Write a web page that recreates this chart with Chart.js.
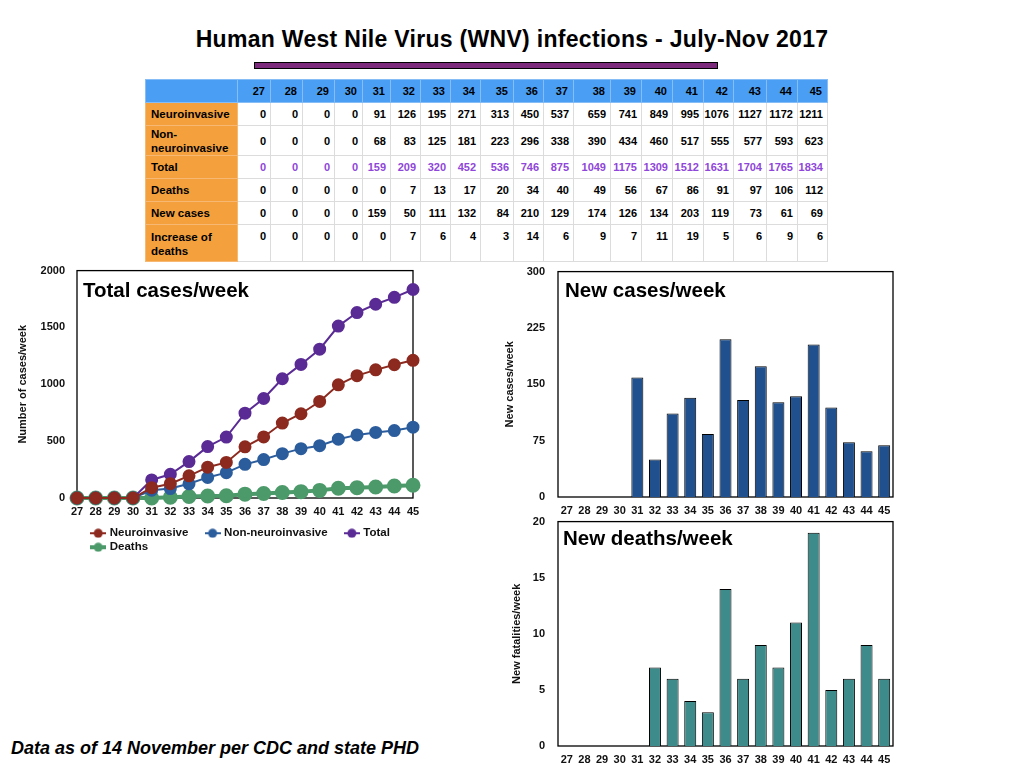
<!DOCTYPE html>
<html>
<head>
<meta charset="utf-8">
<script src="https://cdn.jsdelivr.net/npm/chart.js@4.4.1/dist/chart.umd.min.js"></script>
<style>
html,body{margin:0;padding:0;background:#fff;width:1024px;height:768px;overflow:hidden;font-family:"Liberation Sans",Arial,Helvetica,sans-serif;color:#000;}
#title{position:absolute;left:0;width:1024px;top:28px;text-align:center;font-weight:bold;font-size:23px;line-height:23px;letter-spacing:0.3px;}
#bar{position:absolute;left:254px;top:62px;width:462px;height:5px;background:#7b2a7c;border:1px solid #000;}
#tbl{position:absolute;left:145px;top:79px;border-collapse:collapse;table-layout:fixed;font-weight:bold;font-size:11px;}
#tbl td{border:1px solid #dcdcdc;padding:0 4px 0 0;text-align:right;white-space:nowrap;overflow:visible;}
#tbl tr.hdr td{background:#4a9ff5;border-color:#86bdf7;padding-right:5px;}
#tbl td.lab{background:#f4a03d;text-align:left;white-space:normal;padding:0 2px 0 5px;font-size:11.5px;line-height:14px;border-color:#f7b874;}
#tbl tr.hdr td.lab{background:#4a9ff5;border-color:#86bdf7;}
#tbl td.tot{color:#8f46d9;}
#tbl tr.last td{vertical-align:top;padding-top:5px;}
#tbl tr.last td.lab{padding-top:5px;}
canvas{position:absolute;}
#footer{position:absolute;left:11px;top:739px;font-weight:bold;font-style:italic;font-size:18px;line-height:18px;}
</style>
</head>
<body>
<div id="title">Human West Nile Virus (WNV) infections - July-Nov 2017</div>
<div id="bar"></div>
<table id="tbl"></table>
<canvas id="lineChart" width="440" height="316" style="left:0;top:252px;"></canvas>
<canvas id="casesChart" width="410" height="273" style="left:495px;top:252px;"></canvas>
<canvas id="deathsChart" width="410" height="266" style="left:495px;top:502px;"></canvas>
<div id="footer">Data as of 14 November per CDC and state PHD</div>
<script>
// ---------- data ----------
const weeks = ['27','28','29','30','31','32','33','34','35','36','37','38','39','40','41','42','43','44','45'];
const neuroinvasive = [0,0,0,0,91,126,195,271,313,450,537,659,741,849,995,1076,1127,1172,1211];
const nonNeuroinvasive = [0,0,0,0,68,83,125,181,223,296,338,390,434,460,517,555,577,593,623];
const totalCases = [0,0,0,0,159,209,320,452,536,746,875,1049,1175,1309,1512,1631,1704,1765,1834];
const deaths = [0,0,0,0,0,7,13,17,20,34,40,49,56,67,86,91,97,106,112];
const newCases = [0,0,0,0,159,50,111,132,84,210,129,174,126,134,203,119,73,61,69];
const newDeaths = [0,0,0,0,0,7,6,4,3,14,6,9,7,11,19,5,6,9,6];
const rowLabels = ['Neuroinvasive','Non-neuroinvasive','Total','Deaths','New cases','Increase of deaths'];
const seriesLabels = ['Neuroinvasive','Non-neuroinvasive','Total','Deaths'];
const casesTicks = [0,500,1000,1500,2000];
const newCasesTicks = [0,75,150,225,300];
const newDeathsTicks = [0,5,10,15,20];

// ---------- table ----------
const colWidths = [92,33,32,32,28,28,30,30,30,33,30,30,37,31,31,31,30,33,31,30];
const rowHeights = [23,23,30,23,23,23,37];
const tableRows = [neuroinvasive, nonNeuroinvasive, totalCases, deaths, newCases, newDeaths];
(function buildTable(){
  const t = document.getElementById('tbl');
  const cg = document.createElement('colgroup');
  colWidths.forEach(w=>{ const c=document.createElement('col'); c.style.width=w+'px'; cg.appendChild(c); });
  t.appendChild(cg);
  const hr = document.createElement('tr'); hr.className='hdr'; hr.style.height=rowHeights[0]+'px';
  const h0 = document.createElement('td'); h0.className='lab'; hr.appendChild(h0);
  weeks.forEach(w=>{ const td=document.createElement('td'); td.textContent=w; hr.appendChild(td); });
  t.appendChild(hr);
  tableRows.forEach((vals,ri)=>{
    const tr=document.createElement('tr'); tr.style.height=rowHeights[ri+1]+'px';
    if(ri===tableRows.length-1) tr.className='last';
    const lab=document.createElement('td'); lab.className='lab'; lab.textContent=rowLabels[ri]; tr.appendChild(lab);
    vals.forEach(v=>{ const td=document.createElement('td'); td.textContent=v; if(ri===2) td.className='tot'; tr.appendChild(td); });
    t.appendChild(tr);
  });
})();

// ---------- charts ----------
const FAM = "'Liberation Sans', Arial, Helvetica, sans-serif";
Chart.defaults.font.family = FAM;
Chart.defaults.color = '#111';
const tickFont = {family:FAM, size:11, weight:'bold'};

const framePlugin = {
  id:'frame',
  beforeDatasetsDraw(chart, args, opts){
    const a = chart.chartArea, ctx = chart.ctx;
    ctx.save();
    ctx.strokeStyle = '#000'; ctx.lineWidth = 1.3;
    ctx.strokeRect(a.left, a.top, a.right-a.left, a.bottom-a.top);
    if (opts.text){
      ctx.font = 'bold 20.5px ' + FAM;
      ctx.fillStyle = '#000'; ctx.textBaseline = 'middle'; ctx.textAlign='left';
      ctx.fillText(opts.text, a.left + opts.dx, a.top + opts.dy);
    }
    ctx.restore();
  }
};
const legendShift = {
  id:'legendShift',
  afterLayout(chart, args, opts){ if (chart.legend && opts.dx) { chart.legend.left += opts.dx; } }
};
Chart.register(framePlugin, legendShift);

const colors = ['#8c2a1f','#2b5c9c','#5a2b94','#4c9a6a'];
const lineWidths = [2,2,2,4];
function makeMarker(color, lw){
  const c=document.createElement('canvas'); c.width=16; c.height=10;
  const x=c.getContext('2d');
  x.strokeStyle=color; x.lineWidth=lw; x.beginPath(); x.moveTo(0,5); x.lineTo(16,5); x.stroke();
  x.fillStyle=color; x.beginPath(); x.arc(8,5,4.5,0,Math.PI*2); x.fill();
  return c;
}
const markers = colors.map((c,i)=>makeMarker(c, lineWidths[i]));
const lineSeries = [neuroinvasive, nonNeuroinvasive, totalCases, deaths];

new Chart(document.getElementById('lineChart'), {
  type:'line',
  data:{
    labels:weeks,
    datasets: lineSeries.map((d,i)=>({
      label: seriesLabels[i], data: d,
      borderColor: colors[i], backgroundColor: colors[i],
      pointBackgroundColor: colors[i], pointBorderColor: colors[i],
      borderWidth: lineWidths[i], pointRadius: 5.5, pointHoverRadius: 5.5,
      pointStyle:'circle', tension:0, clip:false
    }))
  },
  options:{
    responsive:false, animation:false, devicePixelRatio:1,
    layout:{padding:{left:0,right:27,top:11,bottom:5}},
    scales:{
      x:{
        offset:false,
        grid:{display:false, drawTicks:false}, border:{display:false},
        ticks:{font:tickFont, color:'#111', padding:7, autoSkip:false, maxRotation:0, minRotation:0},
        afterFit(s){ s.height = 27; }
      },
      y:{
        min:0, max:2000,
        afterBuildTicks(s){ s.ticks = casesTicks.map(v=>({value:v})); },
        grid:{display:false, drawTicks:false}, border:{display:false},
        ticks:{font:tickFont, color:'#111', padding:12, callback:(v)=>String(v)},
        title:{display:true, text:'Number of cases/week', font:tickFont, color:'#111', padding:{top:16,bottom:0}},
        afterFit(s){ s.width = 77; }
      }
    },
    plugins:{
      legend:{
        position:'bottom', align:'start', fullSize:false,
        labels:{
          usePointStyle:true, boxWidth:14, boxHeight:10, padding:2.5, color:'#111',
          font:{family:FAM, size:11.5, weight:'bold'},
          generateLabels(chart){
            const items = Chart.defaults.plugins.legend.labels.generateLabels(chart);
            items.forEach((it,i)=>{ it.pointStyle = markers[i]; it.text = it.text + '     '; });
            return items;
          }
        }
      },
      legendShift:{dx:13},
      tooltip:{enabled:false},
      frame:{text:'Total cases/week', dx:6, dy:21}
    }
  }
});

function barChart(id, data, color, ticks, max, ytitle, titleText, titlePad, xh, pb, dy, dx){
  return new Chart(document.getElementById(id), {
    type:'bar',
    data:{ labels:weeks, datasets:[{ data:data, backgroundColor:color, borderColor:'#000', borderWidth:1, barPercentage:0.68, categoryPercentage:1 }] },
    options:{
      responsive:false, animation:false, devicePixelRatio:1,
      layout:{padding:{left:0,right:12,top:11,bottom:pb}},
      scales:{
        x:{
          grid:{display:false, drawTicks:false}, border:{display:false},
          ticks:{font:tickFont, color:'#111', padding:7, autoSkip:false, maxRotation:0, minRotation:0},
          afterFit(s){ s.height = xh; }
        },
        y:{
          min:0, max:max,
          afterBuildTicks(s){ s.ticks = ticks.map(v=>({value:v})); },
          grid:{display:false, drawTicks:false}, border:{display:false},
          ticks:{font:tickFont, color:'#111', padding:13, callback:(v)=>String(v)},
          title:{display:true, text:ytitle, font:tickFont, color:'#111', padding:{top:titlePad,bottom:0}},
          afterFit(s){ s.width = 63; }
        }
      },
      plugins:{ legend:{display:false}, tooltip:{enabled:false}, frame:{text:titleText, dx:dx, dy:dy} }
    }
  });
}
barChart('casesChart', newCases, '#21508e', newCasesTicks, 300, 'New cases/week', 'New cases/week', 8.5, 24, 4, 20, 7);
barChart('deathsChart', newDeaths, '#3e8b8b', newDeathsTicks, 20, 'New fatalities/week', 'New deaths/week', 15.5, 22, 0, 18, 5);
</script>
</body>
</html>
